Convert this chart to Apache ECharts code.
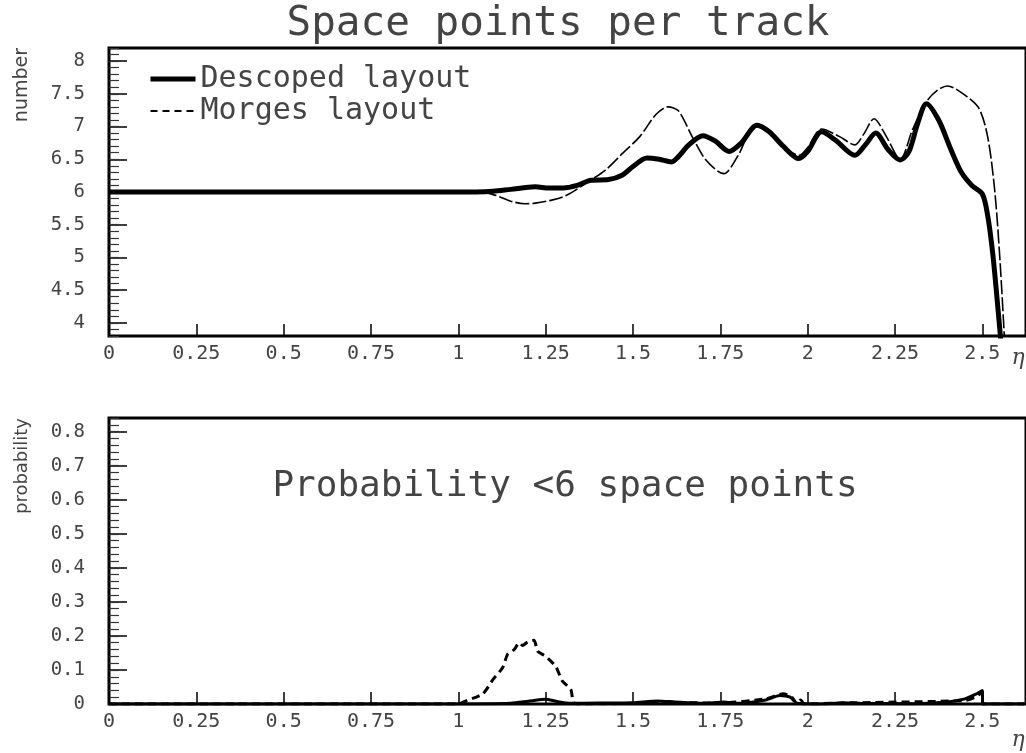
<!DOCTYPE html>
<html>
<head>
<meta charset="utf-8">
<script src="https://cdn.jsdelivr.net/npm/echarts@6/dist/echarts.min.js"></script>
<style>
  html, body { margin: 0; padding: 0; background: #fff; }
  #chart { width: 1026px; height: 753px; }
</style>
</head>
<body>
<div id="chart"></div>
<script>
// Pseudorapidity axis ticks (shared by both panels)
const etaTicks = [0, 0.25, 0.5, 0.75, 1, 1.25, 1.5, 1.75, 2, 2.25, 2.5];
const spaceTicks = [4, 4.5, 5, 5.5, 6, 6.5, 7, 7.5, 8];
const probTicks = [0, 0.1, 0.2, 0.3, 0.4, 0.5, 0.6, 0.7, 0.8];

// Mean number of space points per track vs eta
const descopedEta = [0, 1.05, 1.10, 1.15, 1.22, 1.26, 1.30, 1.34, 1.38, 1.43, 1.47, 1.50, 1.54, 1.575, 1.61, 1.63, 1.66, 1.70, 1.735, 1.775, 1.81, 1.855, 1.89, 1.93, 1.975, 2.00, 2.04, 2.08, 2.135, 2.165, 2.195, 2.23, 2.265, 2.29, 2.315, 2.34, 2.375, 2.41, 2.44, 2.47, 2.50, 2.515, 2.53, 2.545, 2.555];
const descopedPoints = [6, 6, 6.01, 6.04, 6.08, 6.06, 6.06, 6.10, 6.18, 6.19, 6.26, 6.39, 6.52, 6.50, 6.46, 6.54, 6.72, 6.86, 6.78, 6.62, 6.75, 7.02, 6.92, 6.70, 6.51, 6.62, 6.92, 6.79, 6.56, 6.72, 6.90, 6.65, 6.49, 6.62, 7.05, 7.35, 7.10, 6.65, 6.30, 6.10, 5.97, 5.65, 5.05, 4.2, 3.6];

const morgesEta = [0, 1.05, 1.10, 1.15, 1.19, 1.22, 1.27, 1.31, 1.37, 1.42, 1.47, 1.52, 1.565, 1.60, 1.63, 1.67, 1.71, 1.76, 1.80, 1.85, 1.89, 1.935, 1.975, 2.00, 2.04, 2.09, 2.135, 2.16, 2.19, 2.225, 2.265, 2.30, 2.34, 2.37, 2.40, 2.45, 2.49, 2.515, 2.535, 2.55, 2.565];
const morgesPoints = [6, 6, 5.96, 5.86, 5.82, 5.83, 5.88, 5.95, 6.15, 6.33, 6.59, 6.85, 7.18, 7.30, 7.24, 6.84, 6.48, 6.28, 6.55, 7.01, 6.90, 6.68, 6.56, 6.68, 6.96, 6.85, 6.72, 6.88, 7.12, 6.85, 6.50, 6.95, 7.38, 7.55, 7.62, 7.48, 7.28, 6.85, 6.05, 5.0, 3.6];

// Probability of fewer than 6 space points vs eta
const descopedProbEta = [0, 1.0, 1.15, 1.2, 1.25, 1.28, 1.32, 1.4, 1.5, 1.57, 1.62, 1.7, 1.76, 1.8, 1.88, 1.92, 1.95, 1.97, 2.05, 2.1, 2.15, 2.3, 2.4, 2.45, 2.48, 2.5, 2.501, 2.62];
const descopedProb = [0, 0, 0.002, 0.008, 0.014, 0.008, 0.002, 0.003, 0.004, 0.009, 0.006, 0.002, 0.006, 0.002, 0.012, 0.025, 0.02, 0.002, 0, 0.004, 0.002, 0.001, 0.006, 0.015, 0.028, 0.04, 0, 0];

const morgesProbEta = [0, 1.0, 1.012, 1.07, 1.10, 1.127, 1.141, 1.16, 1.174, 1.184, 1.198, 1.217, 1.227, 1.25, 1.279, 1.298, 1.322, 1.329, 1.34, 1.5, 1.6, 1.75, 1.88, 1.93, 1.955, 1.97, 1.98, 1.99, 2.1, 2.45, 2.48, 2.5, 2.501, 2.62];
const morgesProb = [0, 0, 0.005, 0.03, 0.073, 0.107, 0.146, 0.16, 0.18, 0.172, 0.182, 0.187, 0.155, 0.14, 0.11, 0.067, 0.043, 0.005, 0, 0.002, 0.004, 0.003, 0.015, 0.03, 0.02, 0, 0.012, 0, 0.003, 0.01, 0.02, 0.035, 0, 0];

const pairs = (xs, ys) => xs.map((x, i) => [x, ys[i]]);

const MONO = 'DejaVu Sans Mono';
const TEXT = '#444';

function etaAxis(gridIndex) {
  return {
    type: 'value', gridIndex, min: 0, max: 2.625,
    axisLine: { show: false },
    splitLine: { show: false },
    axisTick: { inside: true, length: 12, customValues: etaTicks, lineStyle: { color: '#000', width: 1.5 } },
    axisLabel: { customValues: etaTicks, margin: 8, fontFamily: MONO, fontSize: 20, color: TEXT }
  };
}
function majorAxis(gridIndex, min, max, ticks) {
  return {
    type: 'value', gridIndex, min, max, position: 'left',
    axisLine: { show: false },
    splitLine: { show: false },
    axisTick: { inside: true, length: 18, customValues: ticks, lineStyle: { color: '#000', width: 1.5 } },
    axisLabel: { customValues: ticks, margin: 24, fontFamily: MONO, fontSize: 19, color: TEXT }
  };
}
function minorAxis(gridIndex, min, max, step) {
  return {
    type: 'value', gridIndex, min, max, interval: step, position: 'left',
    axisLine: { show: false },
    splitLine: { show: false },
    axisTick: { inside: true, length: 10, lineStyle: { color: '#333', width: 1.2 } },
    axisLabel: { show: false }
  };
}

const chart = echarts.init(document.getElementById('chart'), null, { renderer: 'canvas' });
chart.setOption({
  animation: false,
  backgroundColor: '#fff',
  color: ['#000', '#000'],
  grid: [
    { left: 109, top: 48, width: 919, height: 288, show: true, borderColor: '#000', borderWidth: 3, backgroundColor: 'transparent' },
    { left: 109, top: 418, width: 919, height: 286, show: true, borderColor: '#000', borderWidth: 3, backgroundColor: 'transparent' }
  ],
  xAxis: [etaAxis(0), etaAxis(1)],
  yAxis: [
    majorAxis(0, 3.8, 8.2, spaceTicks),
    minorAxis(0, 3.8, 8.2, 0.1),
    majorAxis(1, 0, 0.84, probTicks),
    minorAxis(1, 0, 0.84, 0.02)
  ],
  legend: {
    orient: 'vertical', left: 143, top: 58,
    itemWidth: 45, itemHeight: 14, itemGap: 0,
    textStyle: { fontFamily: MONO, fontSize: 30, color: TEXT, lineHeight: 32 },
    data: [
      { name: 'Descoped layout', itemStyle: { opacity: 0 }, lineStyle: { width: 5, color: '#000' } },
      { name: 'Morges layout', itemStyle: { opacity: 0 }, lineStyle: { width: 2, color: '#000', type: [7, 5] } }
    ]
  },
  graphic: [
    { type: 'text', x: 558, y: 24, style: { text: 'Space points per track', font: '41px "DejaVu Sans Mono"', fill: TEXT, align: 'center', verticalAlign: 'middle' } },
    { type: 'text', x: 565, y: 487, style: { text: 'Probability <6 space points', font: '36px "DejaVu Sans Mono"', fill: TEXT, align: 'center', verticalAlign: 'middle' } },
    { type: 'text', x: 22, y: 48, rotation: Math.PI / 2, style: { text: 'number', font: '19px "DejaVu Sans"', fill: TEXT, align: 'right', verticalAlign: 'middle' } },
    { type: 'text', x: 22, y: 418, rotation: Math.PI / 2, style: { text: 'probability', font: '18px "DejaVu Sans"', fill: TEXT, align: 'right', verticalAlign: 'middle' } },
    { type: 'text', x: 1018, y: 358, style: { text: 'η', font: 'italic 22px "DejaVu Serif"', fill: TEXT, align: 'center', verticalAlign: 'middle' } },
    { type: 'text', x: 1018, y: 740, style: { text: 'η', font: 'italic 22px "DejaVu Serif"', fill: TEXT, align: 'center', verticalAlign: 'middle' } }
  ],
  series: [
    { name: 'Descoped layout', type: 'line', xAxisIndex: 0, yAxisIndex: 0, data: pairs(descopedEta, descopedPoints),
      symbol: 'none', smooth: 0.3, itemStyle: { color: '#000' }, lineStyle: { color: '#000', width: 5 }, z: 3 },
    { name: 'Morges layout', type: 'line', xAxisIndex: 0, yAxisIndex: 0, data: pairs(morgesEta, morgesPoints),
      symbol: 'none', smooth: 0.3, itemStyle: { color: '#000' }, lineStyle: { color: '#000', width: 1.6, type: [14, 3] }, z: 4 },
    { name: 'Descoped layout', type: 'line', xAxisIndex: 1, yAxisIndex: 2, data: pairs(descopedProbEta, descopedProb),
      symbol: 'none', smooth: 0.2, itemStyle: { color: '#000' }, lineStyle: { color: '#000', width: 3 }, z: 3 },
    { name: 'Morges layout', type: 'line', xAxisIndex: 1, yAxisIndex: 2, data: pairs(morgesProbEta, morgesProb),
      symbol: 'none', smooth: 0.2, itemStyle: { color: '#000' }, lineStyle: { color: '#000', width: 3, type: [8, 5] }, z: 4 }
  ]
});
</script>
</body>
</html>
